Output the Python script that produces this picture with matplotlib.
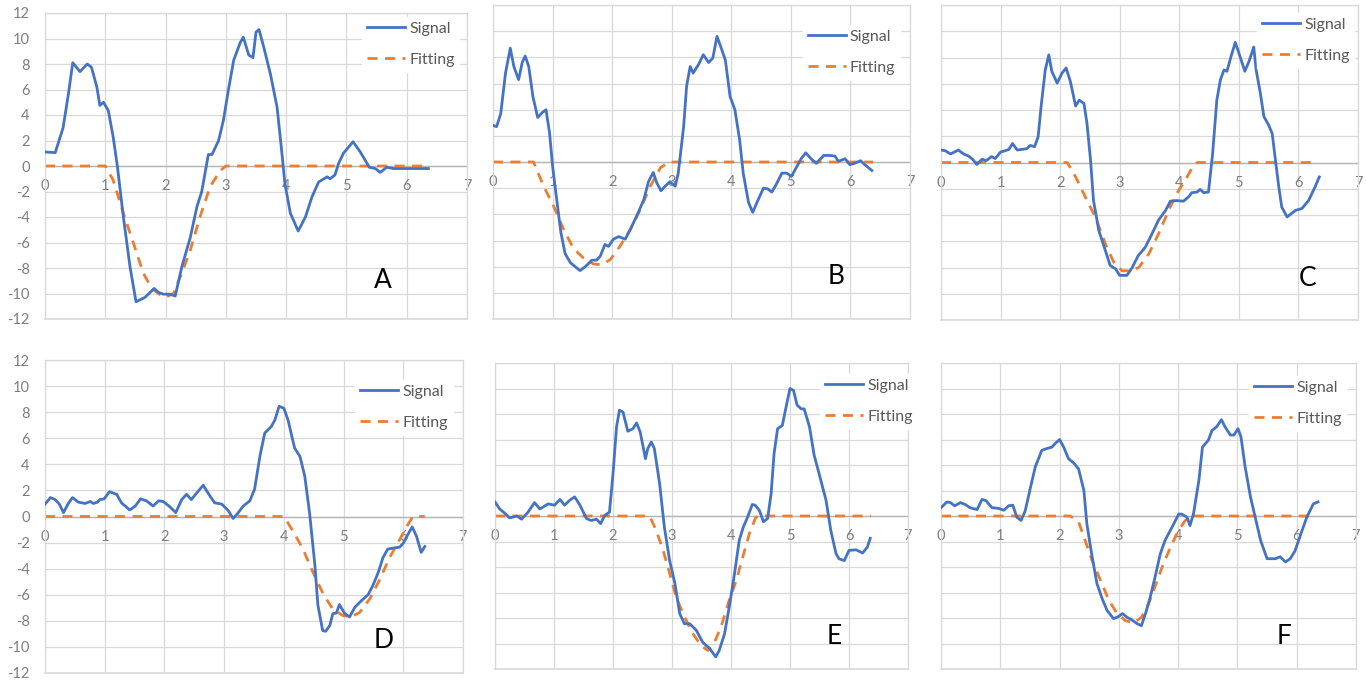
import matplotlib
matplotlib.use("Agg")
import matplotlib.pyplot as plt

plt.rcParams['font.family'] = ['Lato', 'DejaVu Sans']

# ---------------- data ----------------
x_ticks = [0, 1, 2, 3, 4, 5, 6, 7]
y_ticks = [-12, -10, -8, -6, -4, -2, 0, 2, 4, 6, 8, 10, 12]
series_names = ["Signal", "Fitting"]
panel_letters = ["A", "B", "C", "D", "E", "F"]

a_sig_x = [0, 0.17, 0.30, 0.39, 0.46, 0.58, 0.70, 0.77, 0.86, 0.91, 0.97, 1.05, 1.13, 1.20, 1.30, 1.41, 1.51, 1.66,
           1.81, 1.88, 1.96, 2.07, 2.16, 2.27, 2.41, 2.52, 2.60, 2.71, 2.77, 2.88, 2.96, 3.04, 3.13, 3.24, 3.29, 3.38,
           3.45, 3.50, 3.55, 3.63, 3.74, 3.85, 3.93, 3.98, 4.07, 4.20, 4.32, 4.43, 4.54, 4.68, 4.73, 4.81, 4.87, 4.95,
           5.11, 5.23, 5.38, 5.48, 5.56, 5.67, 5.78, 6.36]
a_sig_y = [1.1, 1.05, 3.0, 5.7, 8.1, 7.4, 8.0, 7.75, 6.2, 4.75, 5.0, 4.35, 2.3, 0, -4.0, -7.9, -10.65, -10.3,
           -9.6, -9.9, -10.05, -10.05, -10.2, -7.9, -5.6, -3.2, -2.0, 0.9, 0.9, 2.0, 3.6, 5.9, 8.3, 9.7, 10.1, 8.7,
           8.5, 10.5, 10.7, 9.3, 7.2, 4.6, 1.0, -1.4, -3.7, -5.1, -4.0, -2.4, -1.25, -0.85, -1.0, -0.7, 0.2, 1.0,
           1.9, 1.1, -0.1, -0.2, -0.5, -0.1, -0.2, -0.2]
a_fit_x = [0, 1.0, 1.13, 1.30, 1.47, 1.63, 1.77, 1.91, 2.0, 2.13, 2.27, 2.41, 2.57, 2.74, 2.91, 3.0, 6.28]
a_fit_y = [0, 0, -1.1, -3.7, -6.1, -8.4, -9.6, -10.1, -10.3, -10.0, -8.4, -6.6, -4.0, -1.6, -0.35, 0, 0]

b_sig_x = [0, 0.06, 0.13, 0.21, 0.29, 0.35, 0.43, 0.49, 0.54, 0.60, 0.67, 0.75, 0.82, 0.89, 0.95, 1.0, 1.07, 1.14,
           1.21, 1.30, 1.38, 1.46, 1.55, 1.66, 1.74, 1.80, 1.88, 1.94, 2.02, 2.11, 2.22, 2.30, 2.41, 2.53, 2.61, 2.69,
           2.75, 2.82, 2.89, 2.97, 3.06, 3.11, 3.20, 3.25, 3.31, 3.36, 3.45, 3.53, 3.62, 3.69, 3.76, 3.82, 3.90, 3.98,
           4.06, 4.14, 4.20, 4.29, 4.36, 4.43, 4.54, 4.61, 4.68, 4.75, 4.85, 4.93, 5.01, 5.10, 5.18, 5.25, 5.35, 5.43,
           5.55, 5.66, 5.74, 5.80, 5.91, 5.99, 6.07, 6.17, 6.24, 6.36]
b_sig_y = [2.8, 2.7, 3.7, 6.8, 8.7, 7.3, 6.3, 7.6, 8.1, 7.3, 5.0, 3.4, 3.75, 4.0, 2.2, -0.3, -2.9, -5.4,
           -7.0, -7.7, -8.0, -8.3, -8.0, -7.5, -7.5, -7.2, -6.3, -6.45, -5.9, -5.7, -5.9, -5.2, -4.15, -2.9, -1.5, -0.8,
           -1.6, -2.2, -1.85, -1.5, -1.85, -0.85, 2.7, 5.8, 7.3, 6.8, 7.45, 8.2, 7.6, 7.95, 9.6, 8.85, 7.8, 5.0,
           4.0, 1.7, -0.85, -3.1, -3.85, -3.1, -2.0, -2.05, -2.3, -1.75, -0.85, -0.85, -1.1, -0.35, 0.3, 0.7, 0.2, -0.1,
           0.5, 0.5, 0.45, 0.05, 0.25, -0.2, -0.1, 0.1, -0.2, -0.65]
b_fit_x = [0, 0.68, 0.85, 1.02, 1.19, 1.35, 1.52, 1.69, 1.83, 1.97, 2.13, 2.30, 2.47, 2.64, 2.81, 2.95, 6.38]
b_fit_y = [0, 0, -1.85, -3.4, -5.2, -6.6, -7.35, -7.8, -7.85, -7.45, -6.45, -5.2, -3.65, -1.85, -0.45, 0, 0]

c_sig_x = [0, 0.07, 0.16, 0.29, 0.38, 0.46, 0.53, 0.60, 0.69, 0.76, 0.85, 0.91, 1.0, 1.08, 1.14, 1.20, 1.28, 1.36,
           1.44, 1.50, 1.57, 1.63, 1.68, 1.75, 1.81, 1.86, 1.95, 2.03, 2.10, 2.17, 2.26, 2.32, 2.40, 2.45, 2.51, 2.56,
           2.65, 2.73, 2.84, 2.93, 3.0, 3.12, 3.21, 3.31, 3.43, 3.54, 3.65, 3.77, 3.85, 3.96, 4.07, 4.16, 4.21, 4.30,
           4.35, 4.41, 4.49, 4.56, 4.63, 4.69, 4.75, 4.80, 4.87, 4.94, 5.0, 5.10, 5.17, 5.25, 5.29, 5.36, 5.42, 5.50,
           5.56, 5.60, 5.67, 5.72, 5.81, 5.88, 5.95, 6.06, 6.17, 6.28, 6.35]
c_sig_y = [0.95, 0.9, 0.65, 0.95, 0.65, 0.5, 0.25, -0.15, 0.25, 0.15, 0.45, 0.3, 0.8, 0.9, 1.0, 1.45, 0.95, 1.0,
           1.05, 1.3, 1.2, 1.95, 4.25, 7.05, 8.2, 6.95, 6.05, 6.8, 7.2, 6.2, 4.3, 4.75, 4.5, 3.0, 0.2, -2.9,
           -5.2, -6.3, -7.85, -8.1, -8.6, -8.6, -8.0, -7.1, -6.45, -5.45, -4.4, -3.65, -2.95, -2.9, -2.95, -2.6, -2.3, -2.25,
           -2.05, -2.3, -2.25, 0.7, 4.75, 6.3, 7.05, 6.95, 8.1, 9.15, 8.35, 6.95, 7.7, 8.8, 7.05, 5.3, 3.5, 2.85,
           2.2, 0.7, -1.85, -3.4, -4.15, -3.9, -3.65, -3.5, -2.9, -1.85, -1.1]
c_fit_x = [0, 2.12, 2.26, 2.42, 2.59, 2.76, 2.90, 3.04, 3.18, 3.32, 3.49, 3.65, 3.82, 3.96, 4.10, 4.21, 4.30, 6.26]
c_fit_y = [0, 0, -1.1, -2.6, -4.15, -6.2, -7.6, -8.25, -8.25, -8.0, -6.95, -5.45, -3.65, -2.35, -1.35, -0.45, 0, 0]

d_sig_x = [0, 0.09, 0.17, 0.24, 0.31, 0.39, 0.46, 0.56, 0.67, 0.76, 0.81, 0.88, 0.92, 0.99, 1.08, 1.20, 1.28, 1.42,
           1.51, 1.60, 1.70, 1.81, 1.90, 1.98, 2.09, 2.19, 2.29, 2.37, 2.45, 2.54, 2.65, 2.73, 2.84, 2.96, 3.07, 3.15,
           3.22, 3.32, 3.43, 3.51, 3.60, 3.68, 3.79, 3.85, 3.92, 4.0, 4.07, 4.18, 4.27, 4.35, 4.43, 4.52, 4.57, 4.65,
           4.70, 4.77, 4.82, 4.88, 4.93, 5.02, 5.10, 5.19, 5.30, 5.41, 5.49, 5.58, 5.66, 5.74, 5.86, 5.94, 6.0, 6.08,
           6.15, 6.22, 6.30, 6.36]
d_sig_y = [0.95, 1.45, 1.3, 0.95, 0.3, 1.0, 1.45, 1.1, 1.0, 1.15, 1.0, 1.1, 1.3, 1.35, 1.9, 1.7, 1.05, 0.5,
           0.8, 1.35, 1.2, 0.8, 1.2, 1.15, 0.75, 0.3, 1.3, 1.7, 1.3, 1.8, 2.4, 1.8, 1.05, 0.95, 0.45, -0.15,
           0.2, 0.8, 1.2, 2.1, 4.65, 6.4, 6.9, 7.4, 8.45, 8.3, 7.4, 5.25, 4.6, 3.1, 0.3, -3.75, -6.8, -8.75,
           -8.8, -8.35, -7.45, -7.4, -6.75, -7.45, -7.7, -6.95, -6.45, -6.0, -5.3, -4.3, -3.15, -2.5, -2.4, -2.35, -2.05, -1.35,
           -0.8, -1.5, -2.75, -2.3]
d_fit_x = [0, 4.0, 4.15, 4.32, 4.49, 4.66, 4.82, 4.99, 5.13, 5.27, 5.44, 5.61, 5.77, 5.94, 6.08, 6.16, 6.36]
d_fit_y = [0, 0, -1.1, -2.5, -4.3, -5.95, -7.1, -7.6, -7.7, -7.35, -6.3, -4.8, -3.15, -1.75, -0.6, 0, 0]

e_sig_x = [0, 0.08, 0.17, 0.25, 0.37, 0.45, 0.56, 0.67, 0.76, 0.90, 1.01, 1.10, 1.18, 1.27, 1.35, 1.44, 1.55, 1.63,
           1.72, 1.79, 1.86, 1.94, 2.0, 2.06, 2.11, 2.17, 2.25, 2.34, 2.40, 2.46, 2.55, 2.59, 2.65, 2.70, 2.79, 2.87,
           2.96, 3.05, 3.13, 3.21, 3.30, 3.41, 3.52, 3.64, 3.74, 3.80, 3.89, 3.97, 4.06, 4.14, 4.21, 4.28, 4.36, 4.41,
           4.48, 4.55, 4.62, 4.68, 4.73, 4.79, 4.87, 4.94, 5.0, 5.06, 5.12, 5.19, 5.24, 5.33, 5.41, 5.50, 5.61, 5.69,
           5.78, 5.83, 5.92, 6.0, 6.12, 6.23, 6.31, 6.36]
e_sig_y = [1.1, 0.55, 0.2, -0.15, 0, -0.25, 0.3, 1.05, 0.55, 0.95, 0.85, 1.3, 0.85, 1.25, 1.5, 0.85, -0.2, -0.35,
           -0.25, -0.6, 0.05, 0.3, 3.3, 7.0, 8.3, 8.15, 6.65, 6.85, 7.3, 6.6, 4.5, 5.3, 5.8, 5.3, 2.55, -0.85,
           -3.5, -5.3, -7.65, -8.45, -8.45, -8.95, -9.9, -10.4, -11.05, -10.55, -9.25, -7.15, -4.5, -1.9, -0.85, -0.1, 0.9, 0.85,
           0.45, -0.45, -0.2, 1.75, 4.9, 6.85, 7.1, 8.7, 10.0, 9.85, 8.7, 8.4, 8.4, 7.0, 4.75, 3.2, 1.25, -1.1,
           -2.95, -3.35, -3.5, -2.7, -2.65, -2.9, -2.45, -1.75]
e_fit_x = [0, 2.62, 2.73, 2.85, 2.96, 3.07, 3.21, 3.35, 3.49, 3.61, 3.72, 3.83, 3.97, 4.09, 4.20, 4.31, 4.42, 4.48, 6.37]
e_fit_y = [0, 0, -1.1, -2.7, -4.5, -6.35, -7.9, -9.2, -10.15, -10.55, -9.9, -8.7, -6.6, -5.05, -3.2, -1.4, -0.1, 0, 0]

f_sig_x = [0, 0.10, 0.16, 0.23, 0.33, 0.41, 0.49, 0.61, 0.69, 0.76, 0.86, 0.97, 1.06, 1.14, 1.21, 1.28, 1.35, 1.42,
           1.51, 1.59, 1.70, 1.79, 1.87, 1.93, 2.0, 2.07, 2.15, 2.24, 2.32, 2.41, 2.46, 2.54, 2.63, 2.72, 2.80, 2.91,
           2.99, 3.06, 3.14, 3.22, 3.31, 3.38, 3.45, 3.53, 3.61, 3.70, 3.78, 3.90, 4.01, 4.06, 4.15, 4.20, 4.26, 4.35,
           4.41, 4.51, 4.57, 4.65, 4.73, 4.79, 4.88, 4.94, 5.01, 5.06, 5.13, 5.22, 5.30, 5.39, 5.50, 5.64, 5.72, 5.81,
           5.89, 5.97, 6.07, 6.17, 6.28, 6.36]
f_sig_y = [0.65, 1.1, 1.05, 0.8, 1.05, 0.9, 0.65, 0.5, 1.3, 1.2, 0.65, 0.6, 0.45, 0.8, 0.85, -0.1, -0.35, 0.4,
           2.25, 3.85, 5.15, 5.3, 5.4, 5.7, 6.0, 5.4, 4.5, 4.15, 3.7, 2.0, -0.6, -2.95, -5.3, -6.5, -7.4, -8.05,
           -7.9, -7.65, -7.95, -8.15, -8.45, -8.6, -7.65, -6.35, -4.8, -2.95, -1.9, -0.85, 0.15, 0.15, -0.1, -0.75, 0.2, 2.8,
           5.4, 5.95, 6.7, 7.0, 7.55, 7.0, 6.35, 6.35, 6.85, 6.2, 3.85, 1.5, -0.1, -1.9, -3.35, -3.35, -3.2, -3.6,
           -3.35, -2.75, -1.4, -0.1, 0.95, 1.1]
f_fit_x = [0, 2.18, 2.32, 2.43, 2.55, 2.69, 2.83, 2.97, 3.11, 3.25, 3.39, 3.50, 3.61, 3.73, 3.87, 4.01, 4.12, 4.23, 6.23]
f_fit_y = [0, 0, -0.45, -1.9, -3.5, -5.05, -6.6, -7.65, -8.2, -8.4, -7.9, -6.9, -5.55, -4.0, -2.45, -1.1, -0.35, 0, 0]

signals = [(a_sig_x, a_sig_y), (b_sig_x, b_sig_y), (c_sig_x, c_sig_y),
           (d_sig_x, d_sig_y), (e_sig_x, e_sig_y), (f_sig_x, f_sig_y)]
fits = [(a_fit_x, a_fit_y), (b_fit_x, b_fit_y), (c_fit_x, c_fit_y),
        (d_fit_x, d_fit_y), (e_fit_x, e_fit_y), (f_fit_x, f_fit_y)]

# ---------------- layout (pixels: left, right, top, bottom) ----------------
W, H = 1366, 686
boxes = [(45, 467, 13, 319), (493, 910, 5, 319), (941, 1358, 5, 320),
         (45, 463, 360, 673), (495, 908, 363, 669), (941, 1356, 363, 669)]
legend_anchor = [(0.751, 0.987), (0.743, 0.936), (0.758, 0.975),
                 (0.742, 0.936), (0.787, 0.964), (0.742, 0.958)]
letter_pos = [(0.80, 0.127), (0.823, 0.134), (0.878, 0.133),
              (0.809, 0.105), (0.821, 0.105), (0.827, 0.105)]
show_y = [True, False, False, True, False, False]

BLUE = '#4472C4'
ORANGE = '#ED7D31'
GRID = '#d9d9d9'
AXIS = '#b5b5b5'
TICK_TXT = '#7f7f7f'

fig = plt.figure(figsize=(W / 100, H / 100), dpi=100)
fig.patch.set_facecolor('white')

for i in range(6):
    l, r, t, b = boxes[i]
    ax = fig.add_axes([l / W, (H - b) / H, (r - l) / W, (b - t) / H])
    sx, sy = signals[i]
    fx, fy = fits[i]
    ax.plot(sx, sy, color=BLUE, lw=2.0, solid_joinstyle='round', label=series_names[0], zorder=3)
    ax.plot(fx, fy, color=ORANGE, lw=2.0, linestyle=(0, (3.6, 2.7)), label=series_names[1], zorder=2)
    ax.set_xlim(0, 7)
    ax.set_ylim(-12, 12)
    ax.set_xticks(x_ticks)
    ax.set_yticks(y_ticks)
    ax.grid(True, color=GRID, lw=0.9, zorder=0)
    ax.set_axisbelow(True)
    for side in ['top', 'right', 'left']:
        ax.spines[side].set_color(GRID)
        ax.spines[side].set_linewidth(0.9)
    ax.spines['bottom'].set_position(('data', 0))
    ax.spines['bottom'].set_color(AXIS)
    ax.spines['bottom'].set_linewidth(1.0)
    ax.spines['bottom'].set_zorder(1)
    ax.axhline(-12, color=GRID, lw=1.2, zorder=0, clip_on=False)
    ax.tick_params(axis='x', length=0, pad=9.5, labelsize=10.5, labelcolor=TICK_TXT)
    ax.tick_params(axis='y', length=0, pad=11, labelsize=10.5, labelcolor=TICK_TXT, labelleft=show_y[i])
    ax.set_xticklabels([str(v) for v in x_ticks])
    ax.set_yticklabels([str(v) for v in y_ticks])
    leg = ax.legend(loc='upper left', bbox_to_anchor=legend_anchor[i], borderaxespad=0,
                    frameon=True, fancybox=False, framealpha=1.0, edgecolor='white',
                    fontsize=11.5, handlelength=2.4, handletextpad=0.25, labelspacing=1.05,
                    borderpad=0.3, labelcolor='#595959')
    leg.set_zorder(5)
    ax.text(letter_pos[i][0], letter_pos[i][1], panel_letters[i], transform=ax.transAxes,
            ha='center', va='center', fontsize=19, color='black', zorder=6)

fig.savefig('out.png', dpi=100, facecolor='white')
